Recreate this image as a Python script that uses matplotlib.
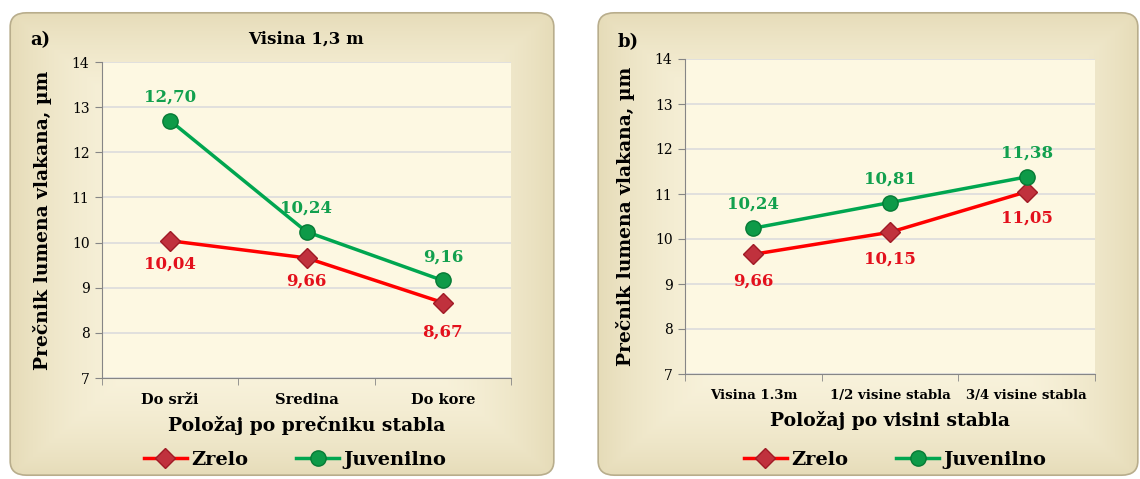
import matplotlib
matplotlib.use('Agg')
import matplotlib.pyplot as plt
import numpy as np
from matplotlib.patches import FancyBboxPatch

# data
cats_a = ["Do srži", "Sredina", "Do kore"]
zrelo_a = [10.04, 9.66, 8.67]
juv_a = [12.70, 10.24, 9.16]

cats_b = ["Visina 1.3m", "1/2 visine stabla", "3/4 visine stabla"]
zrelo_b = [9.66, 10.15, 11.05]
juv_b = [10.24, 10.81, 11.38]

RED = "#ff0000"
RED_TXT = "#e3101c"
GREEN = "#00a650"
GREEN_TXT = "#12a04e"
W, H = 1140, 479

plt.rcParams['font.family'] = ['DejaVu Serif']

fig = plt.figure(figsize=(W / 100, H / 100), dpi=100)
fig.patch.set_facecolor("white")


def px(x0, y0, x1, y1):
    # pixel box (top-left origin) -> figure fraction rect
    return [x0 / W, 1 - y1 / H, (x1 - x0) / W, (y1 - y0) / H]


def panel_bg(x0, y0, x1, y1):
    bg = fig.add_axes(px(x0, y0, x1, y1), zorder=0)
    bg.set_xlim(0, 1)
    bg.set_ylim(0, 1)
    bg.axis("off")
    yy, xx = np.mgrid[0:1:200j, 0:1:200j]
    d = np.maximum(np.abs(xx - 0.5) * 2, np.abs(yy - 0.5) * 2)
    d = d ** 3
    c_in = np.array([0.99, 0.97, 0.89])
    c_out = np.array([0.90, 0.86, 0.72])
    img = c_in[None, None, :] * (1 - d[..., None]) + c_out[None, None, :] * d[..., None]
    box = FancyBboxPatch((0.004, 0.006), 0.992, 0.988,
                         boxstyle="round,pad=0,rounding_size=0.03",
                         transform=bg.transAxes, facecolor="none",
                         edgecolor="#b8ad8c", lw=1.2)
    im = bg.imshow(img, extent=[0, 1, 0, 1], aspect="auto", origin="lower")
    bg.add_patch(box)
    im.set_clip_path(box)


def draw_panel(rect, cats, zrelo, juv, xlabel, tick_fs, green_off, red_off):
    ax = fig.add_axes(rect, zorder=2)
    ax.set_facecolor("#fdf8e2")
    x = np.arange(len(cats))
    ax.plot(x, zrelo, color=RED, lw=2.5, marker="D", ms=10,
            mfc="#c0313d", mec="#a01a25", mew=1, label="Zrelo", zorder=3)
    ax.plot(x, juv, color=GREEN, lw=2.5, marker="o", ms=11,
            mfc="#0e9a48", mec="#067a35", mew=1, label="Juvenilno", zorder=4)
    for i in range(len(cats)):
        ax.annotate(f"{juv[i]:.2f}".replace(".", ","), (x[i], juv[i]),
                    xytext=(0, green_off[i]), textcoords="offset points",
                    ha="center", va="center", color=GREEN_TXT,
                    fontsize=12, fontweight="bold")
        ax.annotate(f"{zrelo[i]:.2f}".replace(".", ","), (x[i], zrelo[i]),
                    xytext=(0, red_off[i]), textcoords="offset points",
                    ha="center", va="center", color=RED_TXT,
                    fontsize=12, fontweight="bold")
    ax.set_xlim(-0.5, len(cats) - 0.5)
    ax.set_ylim(7, 14)
    ax.set_yticks(range(7, 15))
    ax.set_xticks(x)
    ax.set_xticklabels(cats, fontsize=tick_fs, fontweight="bold")
    ax.set_xticks(np.arange(-0.5, len(cats), 1), minor=True)
    ax.tick_params(axis="x", which="major", length=0, pad=11)
    ax.tick_params(axis="x", which="minor", length=5, color="#868686")
    ax.tick_params(axis="y", length=5, color="#868686", labelsize=10, pad=4)
    ax.grid(axis="y", color="#dcdcdc", lw=1.2)
    ax.set_axisbelow(True)
    for s in ["top", "right"]:
        ax.spines[s].set_visible(False)
    for s in ["left", "bottom"]:
        ax.spines[s].set_color("#868686")
    ax.set_ylabel("Prečnik lumena vlakana, µm", fontsize=13.5, fontweight="bold",
                  labelpad=14)
    ax.set_xlabel(xlabel, fontsize=13.5, fontweight="bold", labelpad=6)
    return ax


panel_bg(8, 10, 556, 478)
panel_bg(596, 10, 1140, 478)

ax_a = draw_panel(px(102, 62, 511, 378), cats_a, zrelo_a, juv_a,
                  "Položaj po prečniku stabla", 10.5,
                  [17, 17, 17], [-17, -17, -21])
ax_b = draw_panel(px(685, 59, 1095, 374), cats_b, zrelo_b, juv_b,
                  "Položaj po visini stabla", 9.5,
                  [17, 17, 17], [-19, -19, -19])

ax_a.set_title("Visina 1,3 m", fontsize=12, fontweight="bold", pad=13)
fig.text(30 / W, 1 - 40 / H, "a)", fontsize=13, fontweight="bold", va="center")
fig.text(618 / W, 1 - 42 / H, "b)", fontsize=13, fontweight="bold", va="center")

for ax, cx in [(ax_a, 295), (ax_b, 895)]:
    ax.legend(loc="center", bbox_to_anchor=(cx / W, 1 - 460 / H),
              bbox_transform=fig.transFigure, ncol=2, frameon=False,
              prop={"size": 14, "weight": "bold"}, handlelength=2.2,
              columnspacing=2.5, handletextpad=0.2)

fig.savefig("out.png", dpi=100)
